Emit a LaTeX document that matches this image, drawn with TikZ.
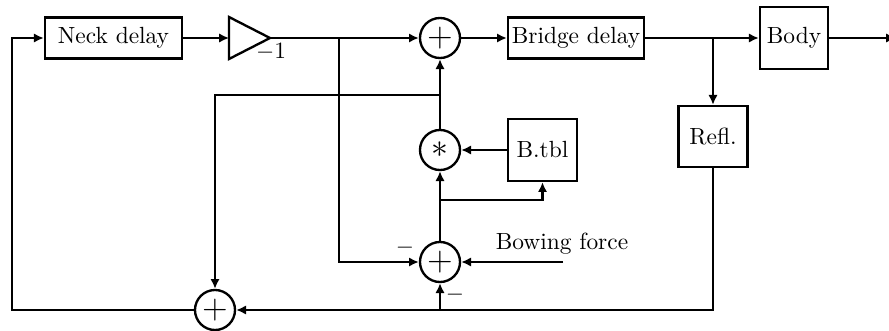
\documentclass[tikz,border=0pt]{standalone}
\usetikzlibrary{arrows.meta}
\begin{document}
\begin{tikzpicture}[x=0.4274pt,y=-0.4274pt, line width=1pt,
  >={Latex[length=4.2pt,width=4pt]},
  blk/.style={draw, inner sep=0pt},
  sumc/.style={draw, circle, minimum size=17.1pt, inner sep=0pt}]
\useasboundingbox (0,0) rectangle (889,331);
% blocks
\node[blk, minimum width=58.6pt, minimum height=17.5pt] (neck) at (113.5,38) {Neck delay};
\node[blk, minimum width=58.1pt, minimum height=17.5pt] (bridge) at (576,38) {Bridge delay};
\node[blk, minimum width=29.1pt, minimum height=26.5pt] (body) at (794,38) {Body};
\node[blk, minimum width=29.5pt, minimum height=26.1pt] (refl) at (713,136.5) {Refl.};
\node[blk, minimum width=29.5pt, minimum height=26.5pt] (btbl) at (542.5,150) {B.tbl};
% summing / multiplying junctions
\node[sumc] (s1) at (440,38) {\Large$+$};
\node[sumc] (mul) at (440,150) {\Large$*$};
\node[sumc] (s2) at (440,262) {\Large$+$};
\node[sumc] (s3) at (215,310) {\Large$+$};
% gain triangle
\coordinate (tin) at (229,38);
\coordinate (tout) at (270,38);
\draw (229,17) -- (tout) -- (229,59) -- cycle;
\node (gain) at (271,52) {$-1$};
% labels
\coordinate (bow) at (563,262);
\node (bowl) at (562,244) {Bowing force};
\node (m1) at (405,248) {$-$};
\node (m2) at (455,295) {$-$};
% junction points
\coordinate (j1) at (339,38);
\coordinate (j2) at (713,38);
\coordinate (j3) at (440,310);
\coordinate (j4) at (440,95);
\coordinate (j5) at (440,200);
\coordinate (out) at (896,38);
\coordinate (c2) at (12,310);
% connectors
\draw[->] (neck) -- (tin);
\draw[->] (tout) -- (s1);
\draw[->] (j1) |- (s2);
\draw[->] (s1) -- (bridge);
\draw[->] (bridge) -- (body);
\draw[->] (j2) -- (refl.north);
\draw[->] (body) -- (out);
\draw[->] (refl.south) |- (s3);
\draw[->] (j3) -- (s2);
\draw[->] (s3) -- (c2) |- (neck);
\draw[->] (s2) -- (mul);
\draw[->] (mul) -- (s1);
\draw[->] (j4) -| (s3);
\draw[->] (btbl) -- (mul);
\draw[->] (j5) -| (btbl.south);
\draw[->] (bow) -- (s2);
\end{tikzpicture}
\end{document}
